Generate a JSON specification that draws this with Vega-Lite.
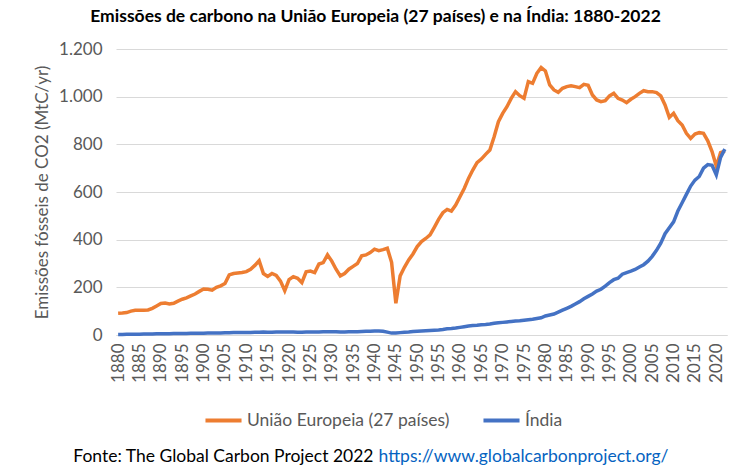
{
"$schema": "https://vega.github.io/schema/vega-lite/v6.json",
"width": 611, "height": 286,
"autosize": "none",
"padding": {"left": 116, "top": 49, "right": 23, "bottom": 137},
"background": "white",
"title": {"text": "Emissões de carbono na União Europeia (27 países) e na Índia: 1880-2022", "font": "Lato", "fontSize": 17.5, "fontWeight": "bold", "color": "#000000", "anchor": "middle", "frame": "group", "dx": -46, "offset": 15},
"config": {"font": "Lato", "view": {"stroke": null}},
"data": {"values": [
{"ano":1880,"ue":91,"in":2},{"ano":1881,"ue":92,"in":2},{"ano":1882,"ue":94,"in":3},{"ano":1883,"ue":100,"in":3},{"ano":1884,"ue":104,"in":3},{"ano":1885,"ue":104,"in":3},{"ano":1886,"ue":104,"in":4},{"ano":1887,"ue":105,"in":4},{"ano":1888,"ue":112,"in":4},{"ano":1889,"ue":122,"in":5},
{"ano":1890,"ue":132,"in":5},{"ano":1891,"ue":134,"in":5},{"ano":1892,"ue":130,"in":5},{"ano":1893,"ue":133,"in":6},{"ano":1894,"ue":142,"in":6},{"ano":1895,"ue":150,"in":6},{"ano":1896,"ue":156,"in":6},{"ano":1897,"ue":164,"in":7},{"ano":1898,"ue":172,"in":7},{"ano":1899,"ue":183,"in":7},
{"ano":1900,"ue":193,"in":7},{"ano":1901,"ue":192,"in":8},{"ano":1902,"ue":188,"in":8},{"ano":1903,"ue":200,"in":8},{"ano":1904,"ue":206,"in":8},{"ano":1905,"ue":216,"in":9},{"ano":1906,"ue":252,"in":9},{"ano":1907,"ue":258,"in":10},{"ano":1908,"ue":260,"in":10},{"ano":1909,"ue":262,"in":10},
{"ano":1910,"ue":266,"in":11},{"ano":1911,"ue":276,"in":11},{"ano":1912,"ue":292,"in":12},{"ano":1913,"ue":312,"in":12},{"ano":1914,"ue":258,"in":13},{"ano":1915,"ue":246,"in":12},{"ano":1916,"ue":258,"in":12},{"ano":1917,"ue":250,"in":13},{"ano":1918,"ue":226,"in":13},{"ano":1919,"ue":186,"in":13},
{"ano":1920,"ue":232,"in":13},{"ano":1921,"ue":245,"in":13},{"ano":1922,"ue":238,"in":12},{"ano":1923,"ue":220,"in":12},{"ano":1924,"ue":265,"in":13},{"ano":1925,"ue":268,"in":13},{"ano":1926,"ue":262,"in":13},{"ano":1927,"ue":298,"in":13},{"ano":1928,"ue":304,"in":14},{"ano":1929,"ue":336,"in":14},
{"ano":1930,"ue":310,"in":14},{"ano":1931,"ue":276,"in":14},{"ano":1932,"ue":248,"in":13},{"ano":1933,"ue":258,"in":13},{"ano":1934,"ue":276,"in":14},{"ano":1935,"ue":288,"in":14},{"ano":1936,"ue":300,"in":14},{"ano":1937,"ue":332,"in":15},{"ano":1938,"ue":336,"in":16},{"ano":1939,"ue":346,"in":16},
{"ano":1940,"ue":360,"in":17},{"ano":1941,"ue":354,"in":17},{"ano":1942,"ue":358,"in":16},{"ano":1943,"ue":364,"in":12},{"ano":1944,"ue":305,"in":8},{"ano":1945,"ue":133,"in":8},{"ano":1946,"ue":248,"in":10},{"ano":1947,"ue":284,"in":12},{"ano":1948,"ue":315,"in":13},{"ano":1949,"ue":340,"in":15},
{"ano":1950,"ue":371,"in":16},{"ano":1951,"ue":392,"in":17},{"ano":1952,"ue":405,"in":18},{"ano":1953,"ue":420,"in":19},{"ano":1954,"ue":452,"in":20},{"ano":1955,"ue":485,"in":21},{"ano":1956,"ue":513,"in":23},{"ano":1957,"ue":527,"in":26},{"ano":1958,"ue":520,"in":27},{"ano":1959,"ue":545,"in":29},
{"ano":1960,"ue":580,"in":32},{"ano":1961,"ue":615,"in":35},{"ano":1962,"ue":657,"in":38},{"ano":1963,"ue":692,"in":40},{"ano":1964,"ue":723,"in":41},{"ano":1965,"ue":738,"in":43},{"ano":1966,"ue":758,"in":44},{"ano":1967,"ue":776,"in":46},{"ano":1968,"ue":832,"in":49},{"ano":1969,"ue":895,"in":51},
{"ano":1970,"ue":930,"in":53},{"ano":1971,"ue":958,"in":55},{"ano":1972,"ue":993,"in":57},{"ano":1973,"ue":1021,"in":59},{"ano":1974,"ue":1004,"in":60},{"ano":1975,"ue":993,"in":62},{"ano":1976,"ue":1063,"in":64},{"ano":1977,"ue":1056,"in":66},{"ano":1978,"ue":1098,"in":69},{"ano":1979,"ue":1122,"in":72},
{"ano":1980,"ue":1108,"in":80},{"ano":1981,"ue":1049,"in":84},{"ano":1982,"ue":1028,"in":88},{"ano":1983,"ue":1018,"in":96},{"ano":1984,"ue":1035,"in":104},{"ano":1985,"ue":1042,"in":112},{"ano":1986,"ue":1046,"in":120},{"ano":1987,"ue":1042,"in":130},{"ano":1988,"ue":1038,"in":140},{"ano":1989,"ue":1052,"in":152},
{"ano":1990,"ue":1048,"in":162},{"ano":1991,"ue":1007,"in":172},{"ano":1992,"ue":986,"in":184},{"ano":1993,"ue":979,"in":192},{"ano":1994,"ue":983,"in":205},{"ano":1995,"ue":1003,"in":220},{"ano":1996,"ue":1014,"in":232},{"ano":1997,"ue":993,"in":238},{"ano":1998,"ue":986,"in":255},{"ano":1999,"ue":975,"in":262},
{"ano":2000,"ue":989,"in":268},{"ano":2001,"ue":1000,"in":275},{"ano":2002,"ue":1014,"in":285},{"ano":2003,"ue":1025,"in":295},{"ano":2004,"ue":1021,"in":310},{"ano":2005,"ue":1021,"in":330},{"ano":2006,"ue":1017,"in":355},{"ano":2007,"ue":1003,"in":385},{"ano":2008,"ue":965,"in":425},{"ano":2009,"ue":913,"in":450},
{"ano":2010,"ue":930,"in":475},{"ano":2011,"ue":899,"in":520},{"ano":2012,"ue":881,"in":555},{"ano":2013,"ue":846,"in":590},{"ano":2014,"ue":825,"in":625},{"ano":2015,"ue":843,"in":650},{"ano":2016,"ue":849,"in":665},{"ano":2017,"ue":846,"in":700},{"ano":2018,"ue":815,"in":715},{"ano":2019,"ue":770,"in":712},
{"ano":2020,"ue":708,"in":672},{"ano":2021,"ue":765,"in":745},{"ano":2022,"ue":772,"in":780}
]},
"transform": [
  {"fold": ["ue", "in"], "as": ["chave", "valor"]},
  {"lookup": "chave", "from": {"data": {"values": [{"chave": "ue", "serie": "União Europeia (27 países)"}, {"chave": "in", "serie": "Índia"}]}, "key": "chave", "fields": ["serie"]}}
],
"encoding": {
  "y": {"field": "valor", "type": "quantitative",
    "scale": {"domain": [0, 1200], "nice": false},
    "axis": {"values": [0, 200, 400, 600, 800, 1000, 1200], "labelExpr": "replace(format(datum.value, ',d'), ',', '.')",
      "grid": true, "gridColor": "#d9d9d9", "gridWidth": 1, "domain": false, "ticks": false,
      "labelFontSize": 17, "labelColor": "#595959", "labelPadding": 14,
      "title": "Emissões fósseis de CO2 (MtC/yr)", "titleFontSize": 17, "titleFontWeight": "normal", "titleColor": "#595959", "titlePadding": 7}},
  "color": {"field": "serie", "type": "nominal",
    "scale": {"domain": ["União Europeia (27 países)", "Índia"], "range": ["#ED7D31", "#4472C4"]},
    "legend": {"orient": "none", "legendX": 87, "legendY": 351, "direction": "horizontal", "title": null,
      "symbolType": "stroke", "symbolStrokeWidth": 4, "symbolSize": 1300,
      "labelFontSize": 17.5, "labelColor": "#595959", "labelLimit": 0, "columnPadding": 25, "labelOffset": 3}}
},
"layer": [
  {"mark": {"type": "line", "strokeWidth": 3.5},
   "encoding": {"x": {"field": "ano", "type": "quantitative",
     "scale": {"domain": [1879.5, 2022.5], "nice": false, "zero": false},
     "axis": {"orient": "bottom", "values": [1880,1885,1890,1895,1900,1905,1910,1915,1920,1925,1930,1935,1940,1945,1950,1955,1960,1965,1970,1975,1980,1985,1990,1995,2000,2005,2010,2015,2020],
       "format": "d", "labelAngle": -90, "labelAlign": "right", "labelBaseline": "middle", "labelPadding": 8,
       "labelFontSize": 17, "labelColor": "#595959", "labelOverlap": false, "labelFlush": false,
       "grid": false, "ticks": false, "domain": true, "domainColor": "#d9d9d9",
       "title": "Fonte: The Global Carbon Project 2022", "titleFontSize": 17.5, "titleFontWeight": "normal", "titleColor": "#000000",
       "titleAlign": "right", "titleBaseline": "middle", "titleX": 257, "titleY": 121}}}},
  {"mark": {"type": "line", "opacity": 0},
   "encoding": {"x": {"field": "ano", "type": "quantitative",
     "axis": {"orient": "bottom", "labels": false, "ticks": false, "domain": false, "grid": false,
       "title": "https://www.globalcarbonproject.org/", "titleFontSize": 17.5, "titleFontWeight": "normal", "titleColor": "#0563C1",
       "titleAlign": "left", "titleBaseline": "middle", "titleX": 262, "titleY": 121}}}}
],
"resolve": {"axis": {"x": "independent"}}
}
